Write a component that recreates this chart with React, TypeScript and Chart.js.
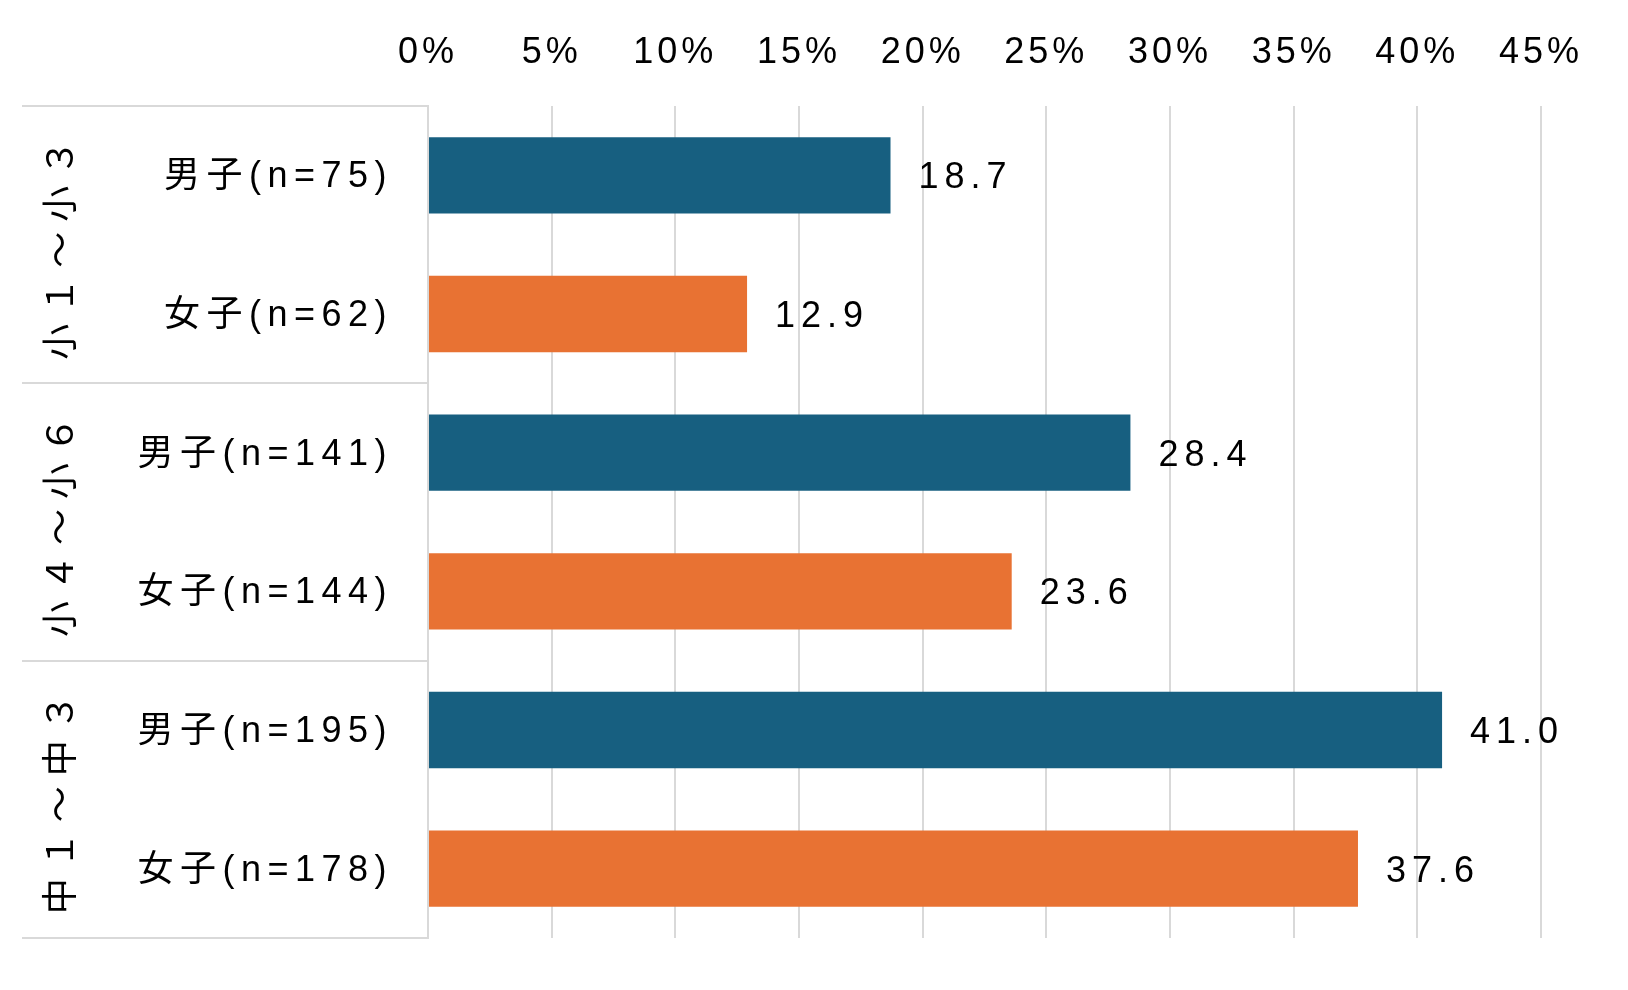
import { useEffect, useRef } from "react";
import { Chart, registerables, type ChartItem } from "chart.js";

Chart.register(...registerables);

/* Data */
const GROUPS = ["小１～小３", "小４～小６", "中１～中３"];
const LABELS = ["男子(n=75)", "女子(n=62)", "男子(n=141)", "女子(n=144)", "男子(n=195)", "女子(n=178)"];
const VALUES = [18.7, 12.9, 28.4, 23.6, 41.0, 37.6];
const X_TICKS = [0, 5, 10, 15, 20, 25, 30, 35, 40, 45];

const BLUE = "#175f80";
const ORANGE = "#e87233";
const GRID = "#d9d9d9";
const FONT = '"Liberation Sans", "Noto Sans CJK JP", sans-serif';

const barColors = LABELS.map((l) => (l.startsWith("男") ? BLUE : ORANGE));

/* left frame, group names, value labels; letter spacing for the axis text */
const overlay = {
  id: "overlay",
  beforeDraw(chart: any) {
    chart.ctx.letterSpacing = "4px"; // x ticks
  },
  beforeDatasetsDraw(chart: any) {
    chart.ctx.letterSpacing = "6.5px"; // y ticks (drawn on layer z=1)
  },
  afterDraw(chart: any) {
    const { ctx, chartArea } = chart;
    const y = chart.scales.y;
    ctx.save();

    // frame lines between groups
    ctx.strokeStyle = GRID;
    ctx.lineWidth = 2;
    for (let g = 0; g <= GROUPS.length; g++) {
      const py = Math.round(y.getPixelForValue(g * 2 - 0.5));
      ctx.beginPath();
      ctx.moveTo(22, py);
      ctx.lineTo(chartArea.left, py);
      ctx.stroke();
    }

    // vertical group names
    ctx.fillStyle = "#000";
    ctx.font = `36px ${FONT}`;
    ctx.letterSpacing = "10px";
    ctx.textAlign = "center";
    ctx.textBaseline = "middle";
    GROUPS.forEach((g, i) => {
      const cy = (y.getPixelForValue(i * 2 - 0.5) + y.getPixelForValue(i * 2 + 1.5)) / 2;
      ctx.save();
      ctx.translate(63, cy);
      ctx.rotate(-Math.PI / 2);
      ctx.fillText(g, 0, 0);
      ctx.restore();
    });

    // value labels
    ctx.letterSpacing = "6px";
    ctx.textAlign = "left";
    const meta = chart.getDatasetMeta(0);
    meta.data.forEach((bar: any, i: number) => {
      ctx.fillText(VALUES[i].toFixed(1), bar.x + 28, bar.y + 3);
    });
    ctx.restore();
  },
};

export default function App() {
  const canvasRef = useRef<HTMLCanvasElement>(null);
  const chartRef = useRef<Chart | null>(null);

  useEffect(() => {
    if (!canvasRef.current) return;
    chartRef.current?.destroy();
    const ctx = canvasRef.current.getContext("2d") as ChartItem;

    chartRef.current = new Chart(ctx, {
      type: "bar",
      data: {
        labels: LABELS,
        datasets: [
          {
            data: VALUES,
            backgroundColor: barColors,
            barPercentage: 0.55,
            categoryPercentage: 1,
          },
        ],
      },
      plugins: [overlay],
      options: {
        indexAxis: "y",
        animation: false,
        responsive: false,
        layout: { padding: { left: 0, right: 87, top: 0, bottom: 52 } },
        plugins: {
          legend: { display: false },
          tooltip: { enabled: false },
        },
        scales: {
          x: {
            position: "top",
            min: 0,
            max: 45,
            afterFit: (s: any) => {
              s.height = 106;
            },
            afterBuildTicks: (s: any) => {
              s.ticks = X_TICKS.map((v) => ({ value: v }));
            },
            grid: { color: GRID, lineWidth: 2, drawTicks: false },
            border: { display: false },
            ticks: {
              color: "#000",
              font: { family: FONT, size: 36 },
              padding: 31,
              maxRotation: 0,
              callback: (v) => `${v}%`,
            },
          },
          y: {
            afterFit: (s: any) => {
              s.width = 428;
            },
            grid: { display: false, drawTicks: true, tickLength: 35 },
            border: { display: true, color: GRID, width: 2 },
            ticks: {
              color: "#000",
              font: { family: FONT, size: 36 },
              padding: 0,
              labelOffset: 2,
              z: 1,
            },
          },
        },
      },
    });

    return () => {
      chartRef.current?.destroy();
      chartRef.current = null;
    };
  }, []);

  return (
    <div style={{ position: "absolute", left: 0, top: 0, width: 1628, height: 990, background: "#fff" }}>
      <canvas ref={canvasRef} width={1628} height={990} style={{ width: 1628, height: 990 }} />
    </div>
  );
}
